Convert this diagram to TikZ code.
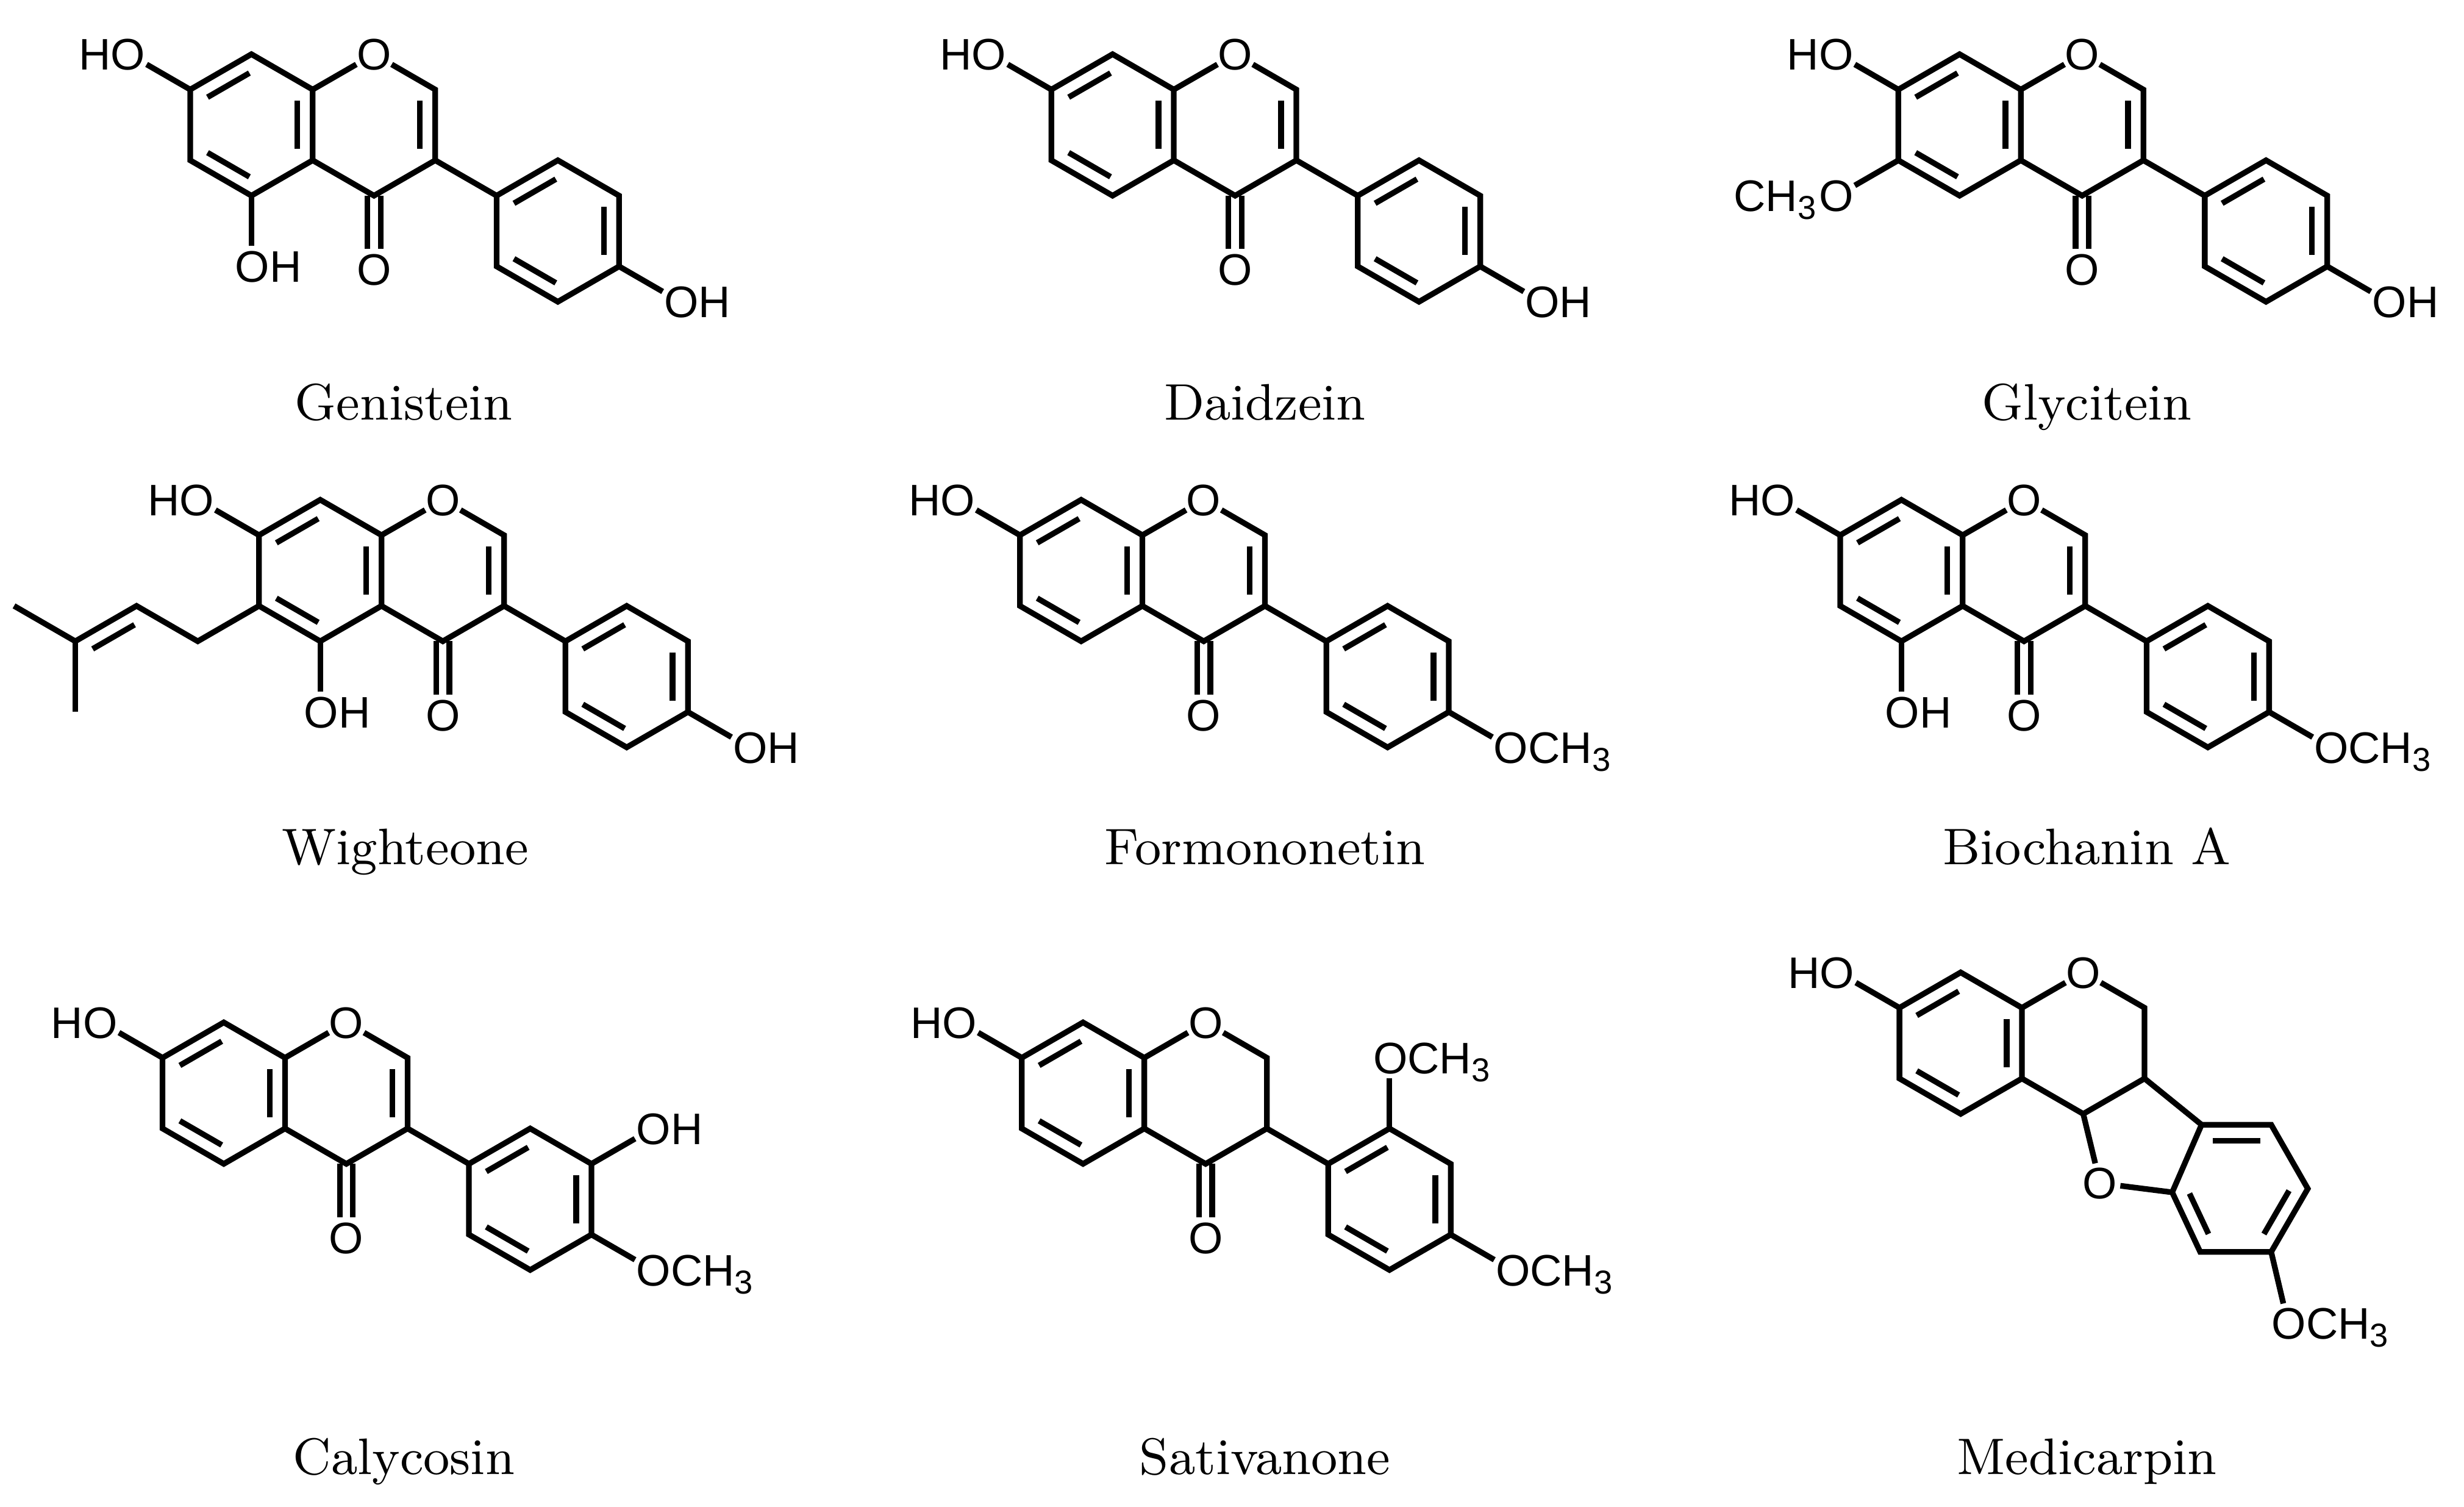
\documentclass[tikz,border=0pt]{standalone}
\usepackage{fontspec}
\newfontfamily\chemfont{Liberation Sans}
\usetikzlibrary{calc}
\tikzset{
 bond/.style={line width=0.36mm},
 atom/.style={font=\chemfont\fontsize{8}{9.5}\selectfont, inner sep=0pt, text height=2.0mm, text depth=0pt},
 tohet/.style={shorten >=1.3mm},
 fromhet/.style={shorten <=1.3mm},
 cname/.style={font=\fontsize{9.3}{11}\selectfont, anchor=base, inner sep=0pt},
}
\newcommand\hexpts[2]{%
 \coordinate (#11) at ($(#2)+(90:45)$);
 \coordinate (#12) at ($(#2)+(30:45)$);
 \coordinate (#13) at ($(#2)+(-30:45)$);
 \coordinate (#14) at ($(#2)+(-90:45)$);
 \coordinate (#15) at ($(#2)+(-150:45)$);
 \coordinate (#16) at ($(#2)+(150:45)$);}
\newcommand\dbl[3]{\draw[bond,shorten <=0.15mm,shorten >=0.15mm] ($(#1)!0.25!(#3)$) -- ($(#2)!0.25!(#3)$);}
\newcommand\subR[4]{%
 \coordinate (#3p) at ($(#1)+(#2:45)$);
 \node[atom,anchor=west] (#3) at ($(#3p)+(-11,0)$) {#4};
 \draw[bond,tohet] (#1) -- (#3p);}
\newcommand\subL[4]{%
 \coordinate (#3p) at ($(#1)+(#2:45)$);
 \node[atom,anchor=east] (#3) at ($(#3p)+(11,0)$) {#4};
 \draw[bond,tohet] (#1) -- (#3p);}
\newcommand\core[3]{%
 \coordinate (#1A) at (#2,-#3);
 \coordinate (#1C) at ($(#1A)+(78,0)$);
 \coordinate (#1B) at ($(#1A)+(195,-67.5)$);
 \hexpts{#1a}{#1A}\hexpts{#1c}{#1C}\hexpts{#1b}{#1B}
 \draw[bond] (#1a1)--(#1a2)--(#1a3)--(#1a4)--(#1a5)--(#1a6)--cycle;
 \draw[bond] (#1b1)--(#1b2)--(#1b3)--(#1b4)--(#1b5)--(#1b6)--cycle;
 \node[atom] (#1O) at (#1c1) {O};
 \draw[bond,tohet] (#1a2) -- (#1c1);
 \draw[bond,fromhet] (#1c1) -- (#1c2) -- (#1c3) -- (#1c4) -- (#1a3);
 \draw[bond] (#1c3) -- (#1b6);
 \coordinate (#1kp) at ($(#1c4)+(0,-47)$);
 \node[atom] (#1K) at (#1kp) {O};
 \draw[bond,tohet] ($(#1c4)+(-4.2,0)$) -- ($(#1kp)+(-4.2,0)$);
 \draw[bond,tohet] ($(#1c4)+(4.2,0)$) -- ($(#1kp)+(4.2,0)$);
 \dbl{#1a6}{#1a1}{#1A}\dbl{#1a2}{#1a3}{#1A}\dbl{#1a4}{#1a5}{#1A}
 \dbl{#1b6}{#1b1}{#1B}\dbl{#1b2}{#1b3}{#1B}\dbl{#1b4}{#1b5}{#1B}}
\begin{document}
\begin{tikzpicture}[x=0.1mm,y=0.1mm]
\useasboundingbox (0,0) rectangle (1568,-958.5);
% Genistein
\core{g}{160}{79.5}\dbl{gc2}{gc3}{gC}
\subL{ga6}{150}{gHO}{HO}\subR{ga4}{270}{gfive}{OH}\subR{gb3}{-30}{gfour}{OH}
% Daidzein
\core{d}{708}{79.5}\dbl{dc2}{dc3}{dC}
\subL{da6}{150}{dHO}{HO}\subR{db3}{-30}{dfour}{OH}
% Glycitein
\core{y}{1247}{79.5}\dbl{yc2}{yc3}{yC}
\subL{ya6}{150}{yHO}{HO}\subL{ya5}{210}{yM}{CH\textsubscript{3}O}\subR{yb3}{-30}{yfour}{OH}
% Wighteone
\core{w}{203.8}{363}\dbl{wc2}{wc3}{wC}
\subL{wa6}{150}{wHO}{HO}\subR{wa4}{270}{wfive}{OH}\subR{wb3}{-30}{wfour}{OH}
\coordinate (wp1) at ($(wa5)+(210:45)$);
\coordinate (wp2) at ($(wp1)+(150:45)$);
\coordinate (wp3) at ($(wp2)+(210:45)$);
\coordinate (wm1) at ($(wp3)+(150:45)$);
\coordinate (wm2) at ($(wp3)+(270:45)$);
\coordinate (wq) at ($(wp2)+(270:45)$);
\draw[bond] (wa5) -- (wp1) -- (wp2) -- (wp3) -- (wm1);
\draw[bond] (wp3) -- (wm2);
\dbl{wp2}{wp3}{wq}
% Formononetin
\core{f}{688}{363}\dbl{fc2}{fc3}{fC}
\subL{fa6}{150}{fHO}{HO}\subR{fb3}{-30}{fM}{OCH\textsubscript{3}}
% Biochanin A
\core{b}{1210}{363}\dbl{bc2}{bc3}{bC}
\subL{ba6}{150}{bHO}{HO}\subR{ba4}{270}{bfive}{OH}\subR{bb3}{-30}{bM}{OCH\textsubscript{3}}
% Calycosin
\core{c}{142.4}{695.5}\dbl{cc2}{cc3}{cC}
\subL{ca6}{150}{cHO}{HO}\subR{cb2}{30}{cOH}{OH}\subR{cb3}{-30}{cM}{OCH\textsubscript{3}}
% Sativanone
\core{s}{689.2}{695.5}
\subL{sa6}{150}{sHO}{HO}\subR{sb1}{90}{sMa}{OCH\textsubscript{3}}\subR{sb3}{-30}{sMb}{OCH\textsubscript{3}}
% Medicarpin
\coordinate (mA) at (1247.7,-663.7);
\hexpts{ma}{mA}
\draw[bond] (ma1)--(ma2)--(ma3)--(ma4)--(ma5)--(ma6)--cycle;
\dbl{ma6}{ma1}{mA}\dbl{ma2}{ma3}{mA}\dbl{ma4}{ma5}{mA}
\coordinate (mO) at ($(ma2)+(30:45)$);
\node[atom] (mOn) at (mO) {O};
\coordinate (m6) at (1364.7,-641.2);
\coordinate (m6a) at (1364.7,-686.2);
\coordinate (m11a) at (1325.7,-708.7);
\coordinate (mO11) at (1336.4,-752.8);
\node[atom] (mO11n) at (mO11) {O};
\coordinate (md1) at (1401,-715.6);
\coordinate (md2) at (1445.3,-715.6);
\coordinate (md3) at (1468.6,-756.3);
\coordinate (md4) at (1445.3,-796.5);
\coordinate (md5) at (1400.1,-796.5);
\coordinate (md6) at (1382.3,-758.6);
\coordinate (mD) at (1423.8,-756.2);
\draw[bond,tohet] (ma2) -- (mO);
\draw[bond,fromhet] (mO) -- (m6) -- (m6a) -- (m11a) -- (ma3);
\draw[bond,tohet] (m11a) -- (mO11);
\draw[bond] (m6a) -- (md1);
\draw[bond] (md1)--(md2)--(md3)--(md4)--(md5)--(md6)--cycle;
\draw[bond,fromhet] (mO11) -- (md6);
\dbl{md1}{md2}{mD}\dbl{md3}{md4}{mD}\dbl{md5}{md6}{mD}
\subL{ma6}{150}{mHO}{HO}
\coordinate (mMp) at (1456,-842);
\node[atom,anchor=west] (mM) at ($(mMp)+(-11,0)$) {OCH\textsubscript{3}};
\draw[bond,tohet] (md4) -- (mMp);
% names
\node[cname] (n1) at (257,-267) {Genistein};
\node[cname] (n2) at (805,-267) {Daidzein};
\node[cname] (n3) at (1328,-267) {Glycitein};
\node[cname] (n4) at (258,-550) {Wighteone};
\node[cname] (n5) at (805,-550) {Formononetin};
\node[cname] (n6) at (1328,-550) {Biochanin A};
\node[cname] (n7) at (257,-938) {Calycosin};
\node[cname] (n8) at (805,-938) {Sativanone};
\node[cname] (n9) at (1328,-938) {Medicarpin};
\end{tikzpicture}
\end{document}
